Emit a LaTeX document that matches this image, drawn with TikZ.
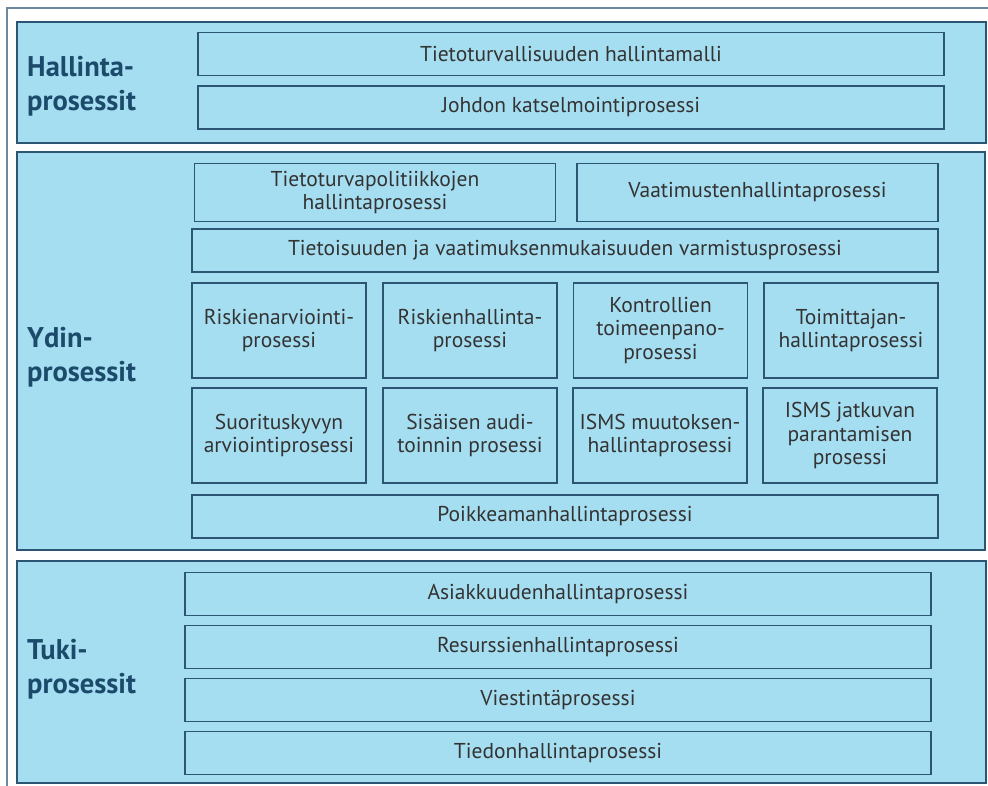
\documentclass[tikz,border=0pt]{standalone}
\usepackage{fontspec}
\setmainfont{PT Sans}
\usepackage{tikz}
\usetikzlibrary{positioning}
\definecolor{panelblue}{HTML}{A6DEF1}
\definecolor{boxline}{HTML}{2B5573}
\definecolor{headblue}{HTML}{1B4A6B}
\definecolor{bodytext}{HTML}{333333}
\definecolor{framegray}{HTML}{6B8AA1}
\tikzstyle{panel} = [rectangle, draw=boxline, fill=panelblue, line width=1.5pt]
\tikzstyle{heading} = [anchor=north west, inner sep=0pt, align=left, text=headblue, font=\fontsize{28.5}{34}\selectfont\bfseries]
\tikzstyle{wide} = [rectangle, draw=boxline, line width=1.3pt, minimum width=746pt, minimum height=43pt, text centered, align=center, inner sep=0pt, text=bodytext, font=\fontsize{21.5}{23.5}\selectfont]
\tikzstyle{half} = [wide, minimum width=361pt, minimum height=58pt]
\tikzstyle{small} = [wide, minimum width=174pt, minimum height=95pt]

\begin{document}
\begin{tikzpicture}[x=1pt, y=-1pt]
        \useasboundingbox (0,0) rectangle (988,786);
        \draw [framegray, line width=2pt] (7,786) -- (7,8) -- (988,8);
        % Hallintaprosessit
        \node(hal) [panel, minimum width=969pt, minimum height=121pt] at (501.5,82.5) {};
        \node(halt) [heading] at (27,56) {Hallinta-\\prosessit};
        \node(hal1) [wide] at (571,54) {Tietoturvallisuuden hallintamalli};
        \node(hal2) [wide] at (571,107.5) {Johdon katselmointiprosessi};
        % Ydinprosessit
        \node(ydin) [panel, minimum width=968pt, minimum height=398pt] at (501,351) {};
        \node(ydint) [heading] at (27,327) {Ydin-\\prosessit};
        \node(pol) [half] at (375,192.5) {Tietoturvapolitiikkojen\\hallintaprosessi};
        \node(vaat) [half] at (757.5,192.5) {Vaatimustenhallintaprosessi};
        \node(tiet) [wide] at (565,250.5) {Tietoisuuden ja vaatimuksenmukaisuuden varmistusprosessi};
        \node(riska) [small] at (279,330.5) {Riskienarviointi-\\prosessi};
        \node(riskh) [small] at (470,330.5) {Riskienhallinta-\\prosessi};
        \node(kont) [small] at (660.5,330.5) {Kontrollien\\toimeenpano-\\prosessi};
        \node(toim) [small] at (851,330.5) {Toimittajan-\\hallintaprosessi};
        \node(suor) [small] at (279,435.5) {Suorituskyvyn\\arviointiprosessi};
        \node(audi) [small] at (470,435.5) {Sisäisen audi-\\toinnin prosessi};
        \node(muut) [small] at (660,435.5) {ISMS muutoksen-\\hallintaprosessi};
        \node(jatk) [small] at (850,435.5) {ISMS jatkuvan\\parantamisen\\prosessi};
        \node(poik) [wide] at (565,516.5) {Poikkeamanhallintaprosessi};
        % Tukiprosessit
        \node(tuki) [panel, minimum width=969pt, minimum height=222pt] at (501.5,672) {};
        \node(tukit) [heading] at (27,639) {Tuki-\\prosessit};
        \node(tuki1) [wide] at (558,594) {Asiakkuudenhallintaprosessi};
        \node(tuki2) [wide] at (558,647) {Resurssienhallintaprosessi};
        \node(tuki3) [wide] at (558,700) {Viestintäprosessi};
        \node(tuki4) [wide] at (558,753) {Tiedonhallintaprosessi};
\end{tikzpicture}
\end{document}
